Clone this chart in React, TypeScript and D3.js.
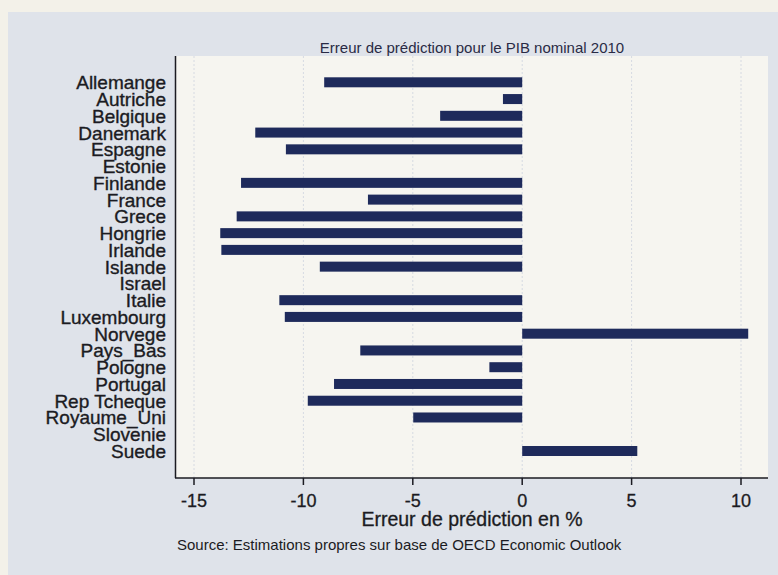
import React from "react";
import * as d3 from "d3";

const countries = [
  "Allemange", "Autriche", "Belgique", "Danemark", "Espagne", "Estonie",
  "Finlande", "France", "Grece", "Hongrie", "Irlande", "Islande", "Israel",
  "Italie", "Luxembourg", "Norvege", "Pays_Bas", "Pologne", "Portugal",
  "Rep Tcheque", "Royaume_Uni", "Slovenie", "Suede",
];

// prediction error in % (null = no value)
const errors: (number | null)[] = [
  -9.05, -0.88, -3.75, -12.2, -10.8, null,
  -12.85, -7.05, -13.05, -13.8, -13.75, -9.25, null,
  -11.1, -10.85, 10.33, -7.4, -1.5, -8.6,
  -9.8, -4.98, null, 5.26,
];

const xTicks = [-15, -10, -5, 0, 5, 10];

const title = "Erreur de prédiction pour le PIB nominal 2010";
const xTitle = "Erreur de prédiction en %";
const source = "Source: Estimations propres sur base de OECD Economic Outlook";

const W = 778;
const H = 575;
const plot = { left: 176, right: 768, top: 56, bottom: 478 };
const font = "'Liberation Sans', Arial, Helvetica, sans-serif";

export default function App() {
  const x = d3.scaleLinear().domain([-15, 10]).range([194, 741]);
  const y = d3
    .scalePoint<string>()
    .domain(countries)
    .range([82.3, 451]);
  const barH = 10;
  const textCol = "#1b1b22";

  return (
    <div style={{ position: "fixed", left: 0, top: 0, width: W, height: H }}>
      <svg width={W} height={H} style={{ display: "block" }}>
        {/* paper and panel backgrounds */}
        <rect x={0} y={0} width={W} height={H} fill="#f3f1e9" />
        <rect x={8} y={12} width={W - 8} height={H - 12} fill="#dfe3ea" />
        <rect
          x={plot.left}
          y={plot.top}
          width={plot.right - plot.left}
          height={plot.bottom - plot.top}
          fill="#f6f5f0"
        />

        {/* vertical grid lines */}
        {xTicks.map((t) => (
          <line
            key={"g" + t}
            x1={x(t)}
            x2={x(t)}
            y1={plot.top}
            y2={plot.bottom}
            stroke="#d6dae2"
            strokeWidth={1}
            strokeDasharray="2,2"
          />
        ))}

        {/* bars */}
        {countries.map((c, i) => {
          const v = errors[i];
          if (v === null) return null;
          const x0 = x(Math.min(0, v));
          const x1 = x(Math.max(0, v));
          return (
            <rect
              key={c}
              x={x0}
              y={(y(c) as number) - barH / 2}
              width={x1 - x0}
              height={barH}
              fill="#1e2a5b"
            />
          );
        })}

        {/* axes */}
        <line
          x1={plot.left - 0.5}
          x2={plot.left - 0.5}
          y1={plot.top}
          y2={plot.bottom}
          stroke="#1b1b22"
          strokeWidth={1.5}
        />
        <line
          x1={plot.left - 1}
          x2={plot.right}
          y1={plot.bottom}
          y2={plot.bottom}
          stroke="#1b1b22"
          strokeWidth={1.5}
        />
        {xTicks.map((t) => (
          <g key={"t" + t}>
            <line
              x1={x(t)}
              x2={x(t)}
              y1={plot.bottom}
              y2={plot.bottom + 7}
              stroke="#1b1b22"
              strokeWidth={1.5}
            />
            <text
              x={x(t)}
              y={507}
              textAnchor="middle"
              fontFamily={font}
              fontSize={18}
              fill={textCol}
              stroke={textCol}
              strokeWidth={0.3}
            >
              {t}
            </text>
          </g>
        ))}

        {/* category labels */}
        {countries.map((c) => (
          <text
            key={"l" + c}
            x={166}
            y={(y(c) as number) + 7}
            textAnchor="end"
            fontFamily={font}
            fontSize={19}
            fill={textCol}
            stroke={textCol}
            strokeWidth={0.35}
          >
            {c}
          </text>
        ))}

        {/* titles */}
        <text
          x={(plot.left + plot.right) / 2}
          y={52.5}
          textAnchor="middle"
          fontFamily={font}
          fontSize={15}
          fill="#2a2b45"
        >
          {title}
        </text>
        <text
          x={(plot.left + plot.right) / 2}
          y={526}
          textAnchor="middle"
          fontFamily={font}
          fontSize={19.5}
          fill={textCol}
          stroke={textCol}
          strokeWidth={0.3}
        >
          {xTitle}
        </text>
        <text
          x={177}
          y={550}
          fontFamily={font}
          fontSize={15}
          fill={textCol}
        >
          {source}
        </text>
      </svg>
    </div>
  );
}
